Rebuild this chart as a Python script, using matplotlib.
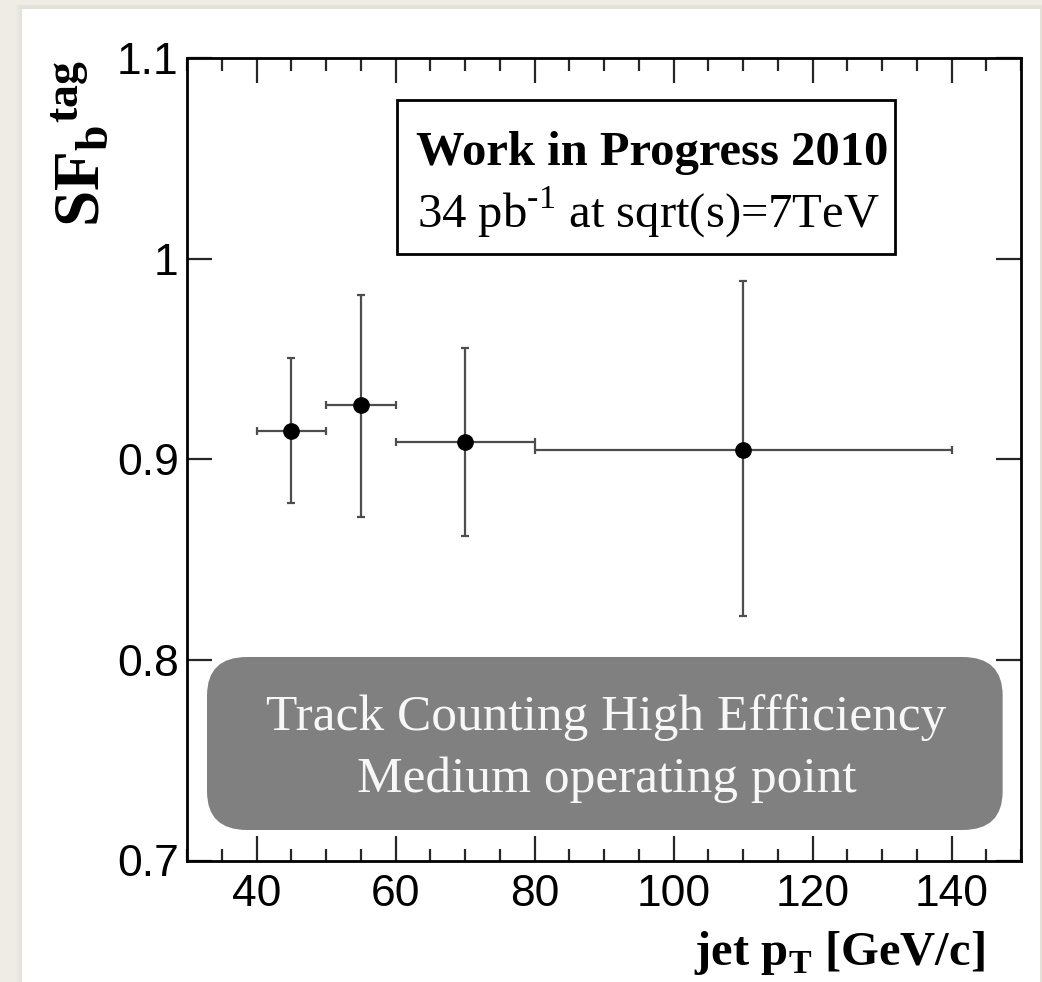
import matplotlib
matplotlib.use('Agg')
import matplotlib.pyplot as plt
from matplotlib.patches import Rectangle, FancyBboxPatch
from matplotlib.ticker import MultipleLocator
import numpy as np

plt.rcParams['mathtext.fontset'] = 'custom'
plt.rcParams['mathtext.rm'] = 'Liberation Serif'
plt.rcParams['mathtext.bf'] = 'Liberation Serif:bold'

# data
pt_center = [45, 55, 70, 110]
pt_lo = [40, 50, 60, 80]
pt_hi = [50, 60, 80, 140]
sf = [0.9143, 0.9268, 0.9088, 0.9048]
sf_up = [0.9505, 0.982, 0.9557, 0.9888]
sf_down = [0.8783, 0.8713, 0.8619, 0.8218]

x = np.array(pt_center)
y = np.array(sf)
xerr = [x - np.array(pt_lo), np.array(pt_hi) - x]
yerr = [y - np.array(sf_down), np.array(sf_up) - y]

fig = plt.figure(figsize=(10.42, 9.82), dpi=100)
fig.patch.set_facecolor('#efece6')

# white slide panel with a soft shadow on the left
for i, a in enumerate([0.04, 0.05, 0.06]):
    fig.patches.append(Rectangle((16/1042 + i*2/1042, 0), 1030/1042, 977/982,
                                 transform=fig.transFigure, facecolor='#b0a898',
                                 alpha=a, edgecolor='none', zorder=-3))
fig.patches.append(Rectangle((22/1042, 0), 1018/1042, 973/982,
                             transform=fig.transFigure, facecolor='white',
                             edgecolor='none', zorder=-2))

ax = fig.add_axes([187/1042, 121.5/982, 834/1042, 802.5/982])
ax.set_facecolor('none')

ax.errorbar(x, y, xerr=xerr, yerr=yerr, fmt='o', color='black', ecolor='0.3',
            elinewidth=1.6, capsize=3, capthick=1.6, markersize=11, zorder=5)

ax.set_xlim(30, 150)
ax.set_ylim(0.7, 1.1)
ax.xaxis.set_minor_locator(MultipleLocator(5))
ax.set_yticks([0.7, 0.8, 0.9, 1.0, 1.1])
ax.set_yticklabels(['0.7', '0.8', '0.9', '1', '1.1'])
ax.set_xticks([40, 60, 80, 100, 120, 140])

ax.tick_params(which='both', direction='in', top=True, right=True,
               labelsize=32, width=1.6, color='0.15')
ax.tick_params(which='major', length=18)
ax.tick_params(which='minor', length=9)
ax.tick_params(axis='x', pad=10)
ax.tick_params(axis='y', pad=6)
for lab in ax.get_xticklabels() + ax.get_yticklabels():
    lab.set_fontfamily('Liberation Sans')
for s in ax.spines.values():
    s.set_linewidth(2)

# labels
fig.text(81/1042, 1 - 144/982, r'$\mathbf{SF_{b}{}^{tag}}$', rotation=90,
         ha='center', va='center', fontsize=47)
fig.text(985/1042, 17/982, r'jet p$_{\mathbf{T}}$ [GeV/c]', ha='right', va='baseline',
         fontsize=35, fontweight='bold', family='Liberation Serif')

# info box
ax.add_patch(Rectangle((0.2518, 0.7558), 0.5972, 0.1919, transform=ax.transAxes,
                       facecolor='white', edgecolor='black', linewidth=2, zorder=6))
ax.text(0.5575, (860.5 - 165)/802.5, 'Work in Progress 2010', transform=ax.transAxes,
        ha='center', va='baseline', fontsize=35, fontweight='bold',
        family='Liberation Serif', zorder=7)
ax.text(0.5535, (860.5 - 228)/802.5, r'34 pb$^{\mathrm{\text{-}1}}$ at sqrt(s)=7TeV',
        transform=ax.transAxes, ha='center', va='baseline', fontsize=35,
        family='Liberation Serif', zorder=7)

# tagger box
ax.add_patch(FancyBboxPatch((0.024, 0.038), 0.954, 0.2156,
                            boxstyle='round,pad=0,rounding_size=0.048',
                            transform=ax.transAxes, facecolor='#808080',
                            edgecolor='none', zorder=3))
ax.text(0.503, (860.5 - 730)/802.5, 'Track Counting High Effficiency',
        transform=ax.transAxes, ha='center', va='baseline', fontsize=37,
        family='Liberation Serif', color='#f7f7f7', zorder=4)
ax.text(0.503, (860.5 - 792)/802.5, 'Medium operating point',
        transform=ax.transAxes, ha='center', va='baseline', fontsize=37,
        family='Liberation Serif', color='#f7f7f7', zorder=4)

fig.savefig('out.png', dpi=100, facecolor=fig.get_facecolor())
